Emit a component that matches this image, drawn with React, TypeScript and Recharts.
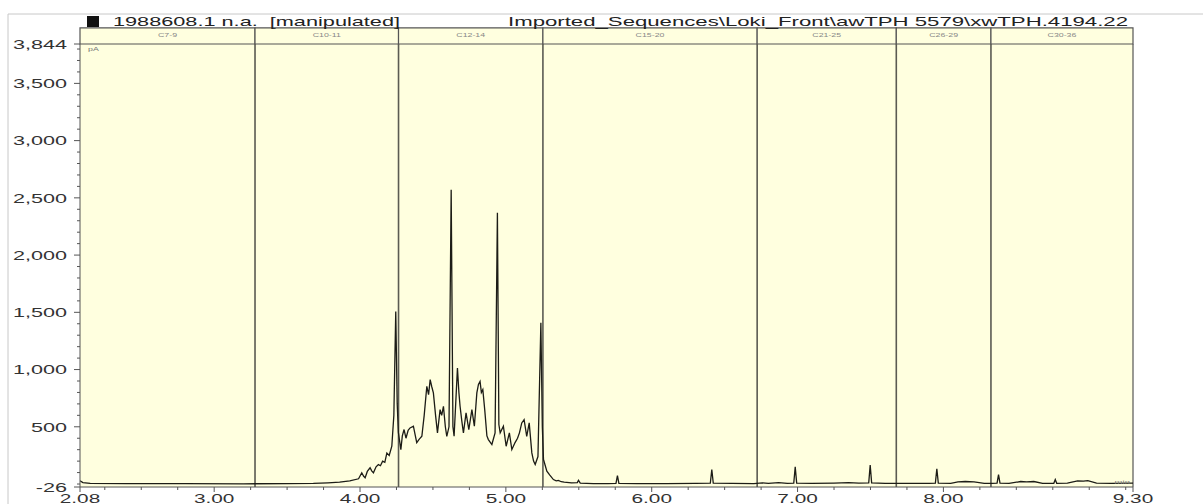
import React from "react";
import {
  LineChart,
  Line,
  XAxis,
  YAxis,
  CartesianGrid,
  ReferenceLine,
  ReferenceArea,
} from "recharts";

// retention time (min) and detector signal (pA)
const TIMES = [
  2.08, 2.1, 2.15, 2.4, 2.8, 3.2, 3.5, 3.68, 3.78, 3.86, 3.93, 3.99, 4.012, 4.024,
  4.035, 4.05, 4.069, 4.08, 4.092, 4.11, 4.126, 4.14, 4.155, 4.17, 4.184, 4.2, 4.218,
  4.232, 4.245, 4.255, 4.263, 4.28, 4.29, 4.302, 4.315, 4.33, 4.343, 4.366, 4.378,
  4.389, 4.405, 4.424, 4.44, 4.458, 4.47, 4.481, 4.492, 4.503, 4.518, 4.531, 4.549,
  4.56, 4.572, 4.585, 4.595, 4.61, 4.625, 4.637, 4.645, 4.656, 4.668, 4.678, 4.686,
  4.698, 4.709, 4.727, 4.746, 4.767, 4.784, 4.801, 4.812, 4.823, 4.832, 4.842, 4.855,
  4.87, 4.88, 4.904, 4.926, 4.942, 4.952, 4.961, 4.983, 5.002, 5.024, 5.041, 5.063,
  5.08, 5.093, 5.109, 5.125, 5.143, 5.16, 5.178, 5.19, 5.201, 5.22, 5.24, 5.25, 5.258,
  5.281, 5.3, 5.326, 5.345, 5.36, 5.38, 5.4, 5.45, 5.49, 5.498, 5.51, 5.6, 5.7, 5.755,
  5.765, 5.775, 5.9, 6.1, 6.3, 6.402, 6.412, 6.422, 6.55, 6.7, 6.76, 6.8, 6.87, 6.93,
  6.974, 6.984, 6.994, 7.1, 7.25, 7.35, 7.42, 7.488, 7.498, 7.508, 7.6, 7.75, 7.9,
  7.945, 7.955, 7.965, 8.05, 8.1, 8.15, 8.21, 8.28, 8.33, 8.368, 8.378, 8.388, 8.45,
  8.53, 8.57, 8.62, 8.68, 8.757, 8.767, 8.777, 8.85, 8.92, 8.96, 8.99, 9.05, 9.15, 9.3,
];
const SIGNAL = [
  28, 12, 6, 4, 3, 2, 3, 5, 10, 16, 28, 46, 98, 70,
  55, 110, 142, 115, 98, 150, 170, 160, 200, 190, 270, 250, 330,
  600, 1508, 700, 450, 301, 420, 476, 400, 470, 490, 505, 430,
  362, 390, 417, 600, 854, 780, 912, 850, 796, 600, 447, 650,
  600, 679, 500, 417, 500, 2570, 500, 417, 700, 1014, 800, 679,
  550, 447, 621, 476, 650, 505, 796, 870, 897, 800, 825, 650,
  420, 388, 345, 447, 2369, 520, 447, 505, 330, 447, 301, 362,
  400, 447, 534, 563, 417, 534, 272, 200, 170, 240, 1409, 500, 214,
  112, 80, 39, 28, 32, 20, 16, 10, 12, 33, 8, 4, 3, 6,
  74, 6, 4, 4, 5, 8, 127, 8, 5, 4, 10, 6, 12, 5,
  8, 150, 8, 6, 8, 12, 8, 10, 165, 10, 6, 6, 5,
  8, 133, 8, 6, 18, 22, 18, 6, 6, 8, 83, 8, 5,
  22, 18, 22, 6, 6, 39, 6, 8, 28, 25, 30, 8, 6, 8,
];

// carbon-range bands (start times) and their names
const BAND_EDGES = [2.08, 3.28, 4.264, 5.254, 6.723, 7.677, 8.326, 9.3];
const BAND_NAMES = ["C7-9", "C10-11", "C12-14", "C15-20", "C21-25", "C26-29", "C30-36"];

const X_MAJOR = [2.08, 3, 4, 5, 6, 7, 8, 9.3];
const X_MINOR = [
  2.25, 2.5, 2.75, 3.25, 3.5, 3.75, 4.25, 4.5, 4.75, 5.25, 5.5, 5.75, 6.25, 6.5, 6.75,
  7.25, 7.5, 7.75, 8.25, 8.5, 8.75, 9, 9.25,
];
const Y_MAJOR = [-26, 500, 1000, 1500, 2000, 2500, 3000, 3500, 3844];
const Y_MINOR = [
  0, 100, 200, 300, 400, 600, 700, 800, 900, 1100, 1200, 1300, 1400, 1600, 1700, 1800,
  1900, 2100, 2200, 2300, 2400, 2600, 2700, 2800, 2900, 3100, 3200, 3300, 3400, 3600,
  3700, 3800,
];
const HEADER_TOP = 3984; // top of the band-name strip, in pA

const BG = "#FFFFDF";
const INK = "#333";
const FONT = "'Liberation Sans', Arial, sans-serif";
const STRETCH = 1.6;

const data = TIMES.map((t, i) => ({ t, pA: SIGNAL[i] }));

function TimeTick(props: any) {
  const { x, y, payload } = props;
  const major = X_MAJOR.includes(payload.value);
  return (
    <g>
      <line x1={x} x2={x} y1={y} y2={y + (major ? 5 : 3)} stroke="#555" />
      {major && (
        <text
          transform={`translate(${x},${y + 15.5}) scale(${STRETCH},1)`}
          textAnchor="middle"
          fontSize={13}
          fill={INK}
        >
          {payload.value.toFixed(2)}
        </text>
      )}
    </g>
  );
}

function SignalTick(props: any) {
  const { x, y, payload } = props;
  const major = Y_MAJOR.includes(payload.value);
  return (
    <g>
      <line x1={x} x2={x - (major ? 6 : 3)} y1={y} y2={y} stroke="#555" />
      {major && (
        <text
          transform={`translate(${x - 13},${y + 4.8}) scale(${STRETCH},1)`}
          textAnchor="end"
          fontSize={13.5}
          fill={INK}
        >
          {payload.value.toLocaleString("en-US")}
        </text>
      )}
    </g>
  );
}

function BandLabel({ viewBox, text }: any) {
  if (!viewBox) return null;
  const cx = viewBox.x + viewBox.width / 2;
  const cy = viewBox.y + viewBox.height / 2 + 1.5;
  return (
    <text
      transform={`translate(${cx},${cy}) scale(${STRETCH},1)`}
      textAnchor="middle"
      fontSize={5.5}
      fill="#888"
    >
      {text}
    </text>
  );
}

function UnitLabel({ viewBox }: any) {
  if (!viewBox) return null;
  return (
    <text
      transform={`translate(${viewBox.x + viewBox.width + 8},${viewBox.y + 7}) scale(${STRETCH},1)`}
      fontSize={5.5}
      fill="#777"
    >
      pA
    </text>
  );
}

function MinLabel({ viewBox }: any) {
  if (!viewBox) return null;
  return (
    <text
      transform={`translate(${viewBox.x + viewBox.width - 3},${viewBox.y - 3}) scale(${STRETCH},1)`}
      textAnchor="end"
      fontSize={6}
      fill="#777"
    >
      min
    </text>
  );
}

export default function App() {
  return (
    <div
      style={{
        position: "absolute",
        left: 0,
        top: 0,
        width: 1203,
        height: 504,
        background: "#fff",
        overflow: "hidden",
        fontFamily: FONT,
      }}
    >
      <LineChart
        width={1203}
        height={504}
        data={data}
        margin={{ top: 44, right: 70, bottom: 0, left: 8 }}
        style={{ fontFamily: FONT }}
      >
        <CartesianGrid horizontal={false} vertical={false} fill={BG} fillOpacity={1} />
        <XAxis
          type="number"
          dataKey="t"
          domain={[2.08, 9.3]}
          ticks={[...X_MAJOR, ...X_MINOR].sort((a, b) => a - b)}
          interval={0}
          height={17}
          tickSize={0}
          tickMargin={0}
          tick={<TimeTick />}
          axisLine={{ stroke: "#555" }}
          allowDataOverflow
          label={<MinLabel />}
        />
        <YAxis
          type="number"
          domain={[-26, 3844]}
          ticks={[...Y_MAJOR, ...Y_MINOR].sort((a, b) => a - b)}
          interval={0}
          width={72}
          tickSize={0}
          tickMargin={0}
          tick={<SignalTick />}
          axisLine={{ stroke: "#555" }}
          allowDataOverflow
          label={<UnitLabel />}
        />
        {BAND_NAMES.map((name, i) => (
          <ReferenceArea
            key={name}
            x1={BAND_EDGES[i]}
            x2={BAND_EDGES[i + 1]}
            y1={3844}
            y2={HEADER_TOP}
            ifOverflow="visible"
            fill={BG}
            fillOpacity={1}
            stroke="#555"
            strokeWidth={1.2}
            label={<BandLabel text={name} />}
          />
        ))}
        {BAND_EDGES.slice(1, -1).map((t) => (
          <ReferenceLine key={t} x={t} stroke="#5b5b52" strokeWidth={1.6} />
        ))}
        <ReferenceLine x={9.3} stroke="#555" strokeWidth={1.2} />
        <Line
          type="linear"
          dataKey="pA"
          stroke="#1c1c16"
          strokeWidth={1.3}
          dot={false}
          isAnimationActive={false}
        />
      </LineChart>
      <svg
        width={1203}
        height={504}
        style={{ position: "absolute", left: 0, top: 0, pointerEvents: "none" }}
      >
        <line x1={8} x2={1203} y1={14} y2={14} stroke="#c8c8c8" />
        <line x1={8} x2={8} y1={14} y2={504} stroke="#c8c8c8" />
        <rect x={87} y={16} width={12} height={11} fill="#111" />
        <text
          x={113}
          y={26}
          fontSize={13.5}
          fill="#222"
          textLength={287}
          lengthAdjust="spacingAndGlyphs"
          style={{ whiteSpace: "pre" }}
        >
          1988608.1 n.a.  [manipulated]
        </text>
        <text
          x={1128}
          y={26}
          fontSize={13.5}
          fill="#222"
          textAnchor="end"
          textLength={620}
          lengthAdjust="spacingAndGlyphs"
        >
          {"Imported_Sequences\\Loki_Front\\awTPH 5579\\xwTPH.4194.22"}
        </text>
      </svg>
    </div>
  );
}
